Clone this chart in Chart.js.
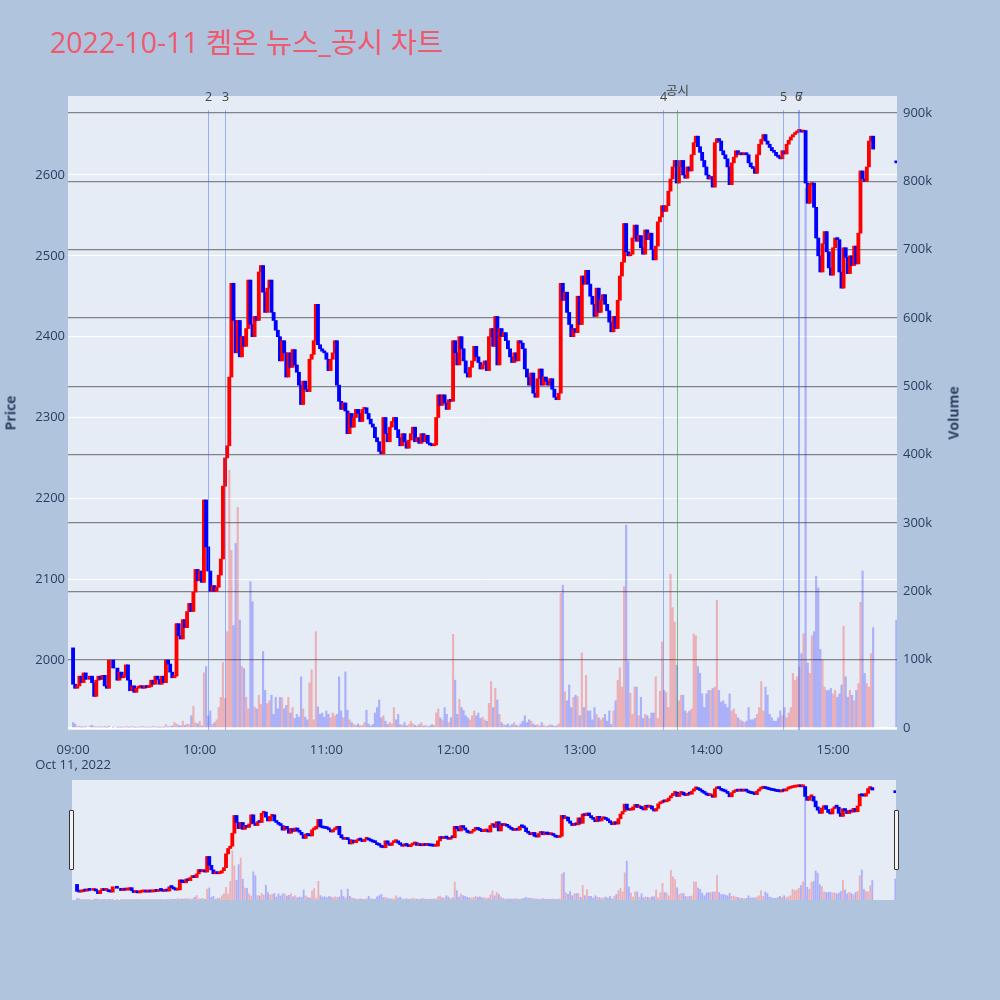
<!DOCTYPE html>
<html>
<head>
<meta charset="utf-8">
<script src="https://cdn.jsdelivr.net/npm/chart.js@4.4.0/dist/chart.umd.min.js"></script>
<style>
  body { margin: 0; background: #b0c4de; width: 1000px; height: 1000px; position: relative; overflow: hidden;
         font-family: "Open Sans", "Noto Sans CJK KR", sans-serif; }
  #title { position: absolute; left: 50px; top: 20px; font-size: 28.5px; color: #ee5a6e; white-space: nowrap;
           font-family: "Open Sans", "Noto Sans CJK KR", sans-serif; }
  #mainChart { position: absolute; left: 0; top: 0; }
  #sliderChart { position: absolute; left: 72px; top: 780px; }
  .axisTitle { position: absolute; font-weight: bold; font-size: 14px; color: #2a3f5f; white-space: nowrap;
               transform: translate(-50%, -50%) rotate(-90deg); }
  .handle { position: absolute; top: 810px; width: 3px; height: 58px; background: #f4f4f4; border: 1px solid #333; border-radius: 1px; }
</style>
</head>
<body>
<div id="title">2022-10-11 켐온 뉴스_공시 차트</div>
<canvas id="mainChart" width="1000" height="780"></canvas>
<canvas id="sliderChart" width="824" height="120"></canvas>
<div class="axisTitle" style="left:10px; top:413px;">Price</div>
<div class="axisTitle" style="left:953px; top:413px;">Volume</div>
<div class="handle" style="left:69px;"></div>
<div class="handle" style="left:894px;"></div>
<script>
    // minutes since 09:00, one close per minute (null = no trade)
    const firstOpen = 2015;
    const closePrices = [
        1970,1965,1968,1980,1972,1984,1976,null,1980,1972,   // 09:00
        1955,1975,1980,1976,1981,1968,1965,2000,null,1990,
        null,1975,1985,1978,1980,1994,1975,1962,1968,1960,
        1965,1966,1968,1965,1968,1966,1967,1975,1970,1980,
        1976,1970,1980,1972,2000,1995,1985,1978,1980,2045,
        2030,2026,2050,2040,2060,2070,2060,2084,2112,2098,
        2110,2096,2198,2140,2110,2085,2092,2085,2090,2105,   // 10:00
        2125,2215,2250,2265,2350,2466,2420,2380,2420,2375,
        2400,2388,2410,2470,2415,2400,2425,2420,2480,2488,
        2455,2430,2460,2470,2430,2420,2408,2400,2370,2395,
        2380,2350,2380,2362,2384,2365,2356,2340,2316,2345,
        2335,2332,2372,2378,2395,2440,2390,2385,2382,2380,
        2372,2358,2372,2380,2395,2340,2320,2310,2318,2308,   // 11:00
        2280,2305,2288,2300,2310,2305,2295,2310,2312,2305,
        2298,2292,2288,2275,2270,2258,2255,2300,2280,2270,
        2288,2295,2300,2285,2275,2265,2280,2270,2262,2272,
        2280,2288,2270,2275,2268,2280,2270,2278,2268,2266,
        2265,2266,2300,2328,2315,2328,2318,2310,2322,2320,
        2395,2380,2365,2400,2385,2370,2355,2350,2362,2370,   // 12:00
        2388,2375,2368,2360,2365,2370,2358,2400,2410,2388,
        2425,2365,2410,2400,2405,2395,2385,2375,2368,2380,
        2370,2395,2392,2385,2360,2350,2340,2355,2330,2325,
        2348,2360,2340,2350,2345,2340,2348,2335,2325,2322,
        2330,2466,2445,2455,2430,2415,2400,2410,2405,2450,
        2415,2475,2465,2482,2465,2450,2440,2425,2460,2430,   // 13:00
        2445,2452,2440,2432,2418,2406,2425,2410,2445,2475,
        2492,2540,2505,2500,2502,2522,2538,2518,2525,2510,
        2502,2532,2520,2528,2508,2495,2512,2542,2548,2562,
        2555,2562,2580,2595,2610,2618,2590,2610,2618,2600,
        2596,2610,2605,2625,2640,2648,2635,2628,2618,2610,
        2600,2595,2598,2585,2640,2645,2642,2630,2625,2620,   // 14:00
        2610,2588,2615,2622,2630,2625,2627,2625,2626,2625,
        2615,2610,2608,2602,2625,2638,2644,2650,2642,2638,
        2634,2630,2628,2624,2622,2620,2630,2626,2638,2643,
        2647,2650,2652,2654,2655,2653,2655,2590,2565,2588,
        2590,2560,2522,2500,2480,2515,2530,2505,2485,2476,
        2510,2522,2520,2480,2460,2510,2498,2478,2500,2488,   // 15:00
        2512,2490,2528,2605,2595,2592,2610,2642,2648,2632
    ];
    // volume per minute, thousands of shares
    const volumesK = [
        8,6,2,3,1,2,2,0,3,4,
        2,1,1,2,1,2,1,3,0,1,
        0,1,1,1,1,2,1,1,2,1,
        1,1,1,2,1,1,1,1,2,2,
        1,1,1,1,5,2,2,3,8,6,
        4,3,10,4,6,5,18,32,8,6,
        10,3,81,90,18,25,5,8,12,30,
        45,96,43,141,377,260,150,270,323,158,
        90,87,45,28,214,185,31,28,48,35,
        112,55,36,40,48,20,45,28,45,44,
        28,33,45,22,30,14,20,16,75,28,
        16,12,66,85,12,141,31,20,22,16,
        25,20,15,22,18,20,75,25,15,82,
        26,12,8,5,4,6,3,4,8,26,
        6,3,5,22,30,41,15,18,10,5,
        8,6,30,12,20,5,4,8,3,5,
        10,6,4,3,5,8,3,4,2,3,
        5,4,22,28,15,12,30,20,8,15,
        137,70,20,42,30,26,18,15,12,18,
        25,18,22,14,16,12,10,36,68,30,
        58,41,20,8,5,4,6,3,5,8,
        4,3,6,10,18,8,12,10,6,4,
        5,3,8,4,2,3,5,4,2,3,
        6,197,209,53,40,63,30,45,48,46,
        18,110,30,77,25,25,12,30,20,15,
        12,15,20,10,25,5,25,40,70,88,
        60,207,297,98,51,20,60,60,18,45,
        14,20,18,14,22,22,75,14,54,126,
        55,52,30,225,176,155,92,40,48,48,
        25,22,25,28,138,135,90,80,50,30,
        50,55,55,58,60,187,55,38,40,35,
        30,50,25,28,20,15,12,10,8,10,
        30,12,12,14,20,30,68,25,60,48,
        20,15,10,10,15,25,18,30,15,22,
        30,80,70,75,89,109,138,790,95,80,
        135,141,222,205,115,100,60,55,55,58,
        50,55,45,50,63,149,75,45,55,48,
        40,55,65,184,230,80,65,60,109,147
    ];
    // 15:30 closing auction
    const auctionMinute = 390;
    const auctionPrice = 2615;
    const auctionVolumeK = 158;

    // news / filing markers
    const markerLabels = ['2', '3', '4', '공시', '5', '6', '7'];
    const markerMinutes = [64, 72, 279.5, 286, 336.3, 343.3, 343.8];

    const xTickMinutes = [0, 60, 120, 180, 240, 300, 360];
    const xTickLabels = [['09:00', 'Oct 11, 2022'], '10:00', '11:00', '12:00', '13:00', '14:00', '15:00'];
    const priceTicks = [2000, 2100, 2200, 2300, 2400, 2500, 2600];
    const volumeTicksK = [0, 100, 200, 300, 400, 500, 600, 700, 800, 900];

    const xRange = [-2.4, 390.3];
    const priceRange = [1913.4, 2697.7];
    const volumeRange = [-2.9, 924.9];

    // build candles (open = previous close)
    const candles = [];
    const vols = [];
    let prevClose = firstOpen;
    closePrices.forEach(function (c, t) {
        if (c === null) return;
        candles.push({x: t, y: [prevClose, c]});
        vols.push({x: t, y: volumesK[t]});
        prevClose = c;
    });
    candles.push({x: auctionMinute, y: [auctionPrice, auctionPrice]});
    vols.push({x: auctionMinute, y: auctionVolumeK});

    const isUp = candles.map(d => d.y[1] > d.y[0]);
    const candleColors = isUp.map(u => u ? '#ff0000' : '#0000ff');
    const volumeColors = isUp.map(u => u ? 'rgba(255,0,0,0.25)' : 'rgba(0,0,255,0.25)');

    const tickFont = {family: '"Open Sans", sans-serif', size: 13};
    const tickColor = '#2a3f5f';

    const plotBg = {
        id: 'plotBg',
        beforeDraw(chart) {
            const {ctx, chartArea} = chart;
            ctx.save();
            ctx.fillStyle = '#e5ecf6';
            ctx.fillRect(chartArea.left, chartArea.top, chartArea.right - chartArea.left, chartArea.bottom - chartArea.top);
            ctx.restore();
        }
    };

    const markerLines = {
        id: 'markerLines',
        afterDatasetsDraw(chart) {
            const {ctx, chartArea, scales} = chart;
            ctx.save();
            ctx.font = '12.5px "Open Sans", "Noto Sans CJK KR", sans-serif';
            ctx.textAlign = 'center';
            ctx.textBaseline = 'middle';
            markerMinutes.forEach(function (m, i) {
                const x = Math.round(scales.x.getPixelForValue(m)) + 0.5;
                const filing = markerLabels[i] === '공시';
                ctx.strokeStyle = filing ? 'rgba(50,160,50,0.6)' : 'rgba(60,100,240,0.45)';
                ctx.lineWidth = 1;
                ctx.beginPath();
                ctx.moveTo(x, chartArea.top + 14);
                ctx.lineTo(x, chartArea.bottom);
                ctx.stroke();
                ctx.fillStyle = '#444';
                ctx.fillText(markerLabels[i], x, filing ? 91 : 97);
            });
            ctx.restore();
        }
    };

    function datasets(volThickness) {
        return [
            {
                label: 'Price', data: candles, yAxisID: 'y', backgroundColor: candleColors,
                borderWidth: 0, barThickness: 3.2, minBarLength: 2, grouped: false, order: 1
            },
            {
                label: 'Volume', data: vols, yAxisID: 'y2', backgroundColor: volumeColors,
                borderWidth: 0, barThickness: volThickness, grouped: false, order: 2
            }
        ];
    }

    new Chart(document.getElementById('mainChart'), {
        type: 'bar',
        data: {datasets: datasets(1.5)},
        options: {
            responsive: false,
            animation: false,
            devicePixelRatio: 1,
            layout: {padding: {top: 96, left: 0, right: 0, bottom: 0}},
            plugins: {legend: {display: false}, tooltip: {enabled: false}},
            scales: {
                x: {
                    type: 'linear', min: xRange[0], max: xRange[1], offset: false,
                    grid: {display: false}, border: {display: false},
                    afterBuildTicks: s => { s.ticks = xTickMinutes.map(v => ({value: v})); },
                    afterFit: s => { s.height = 50; },
                    ticks: {
                        autoSkip: false, maxRotation: 0, padding: 4, color: tickColor, font: tickFont,
                        callback: (v, i) => xTickLabels[i]
                    }
                },
                y: {
                    position: 'left', min: priceRange[0], max: priceRange[1],
                    grid: {color: '#ffffff', lineWidth: 1, drawTicks: false}, border: {display: false},
                    afterBuildTicks: s => { s.ticks = priceTicks.map(v => ({value: v})); },
                    afterFit: s => { s.width = 68; },
                    ticks: {padding: 3, color: tickColor, font: tickFont, callback: v => String(v)}
                },
                y2: {
                    position: 'right', min: volumeRange[0], max: volumeRange[1],
                    grid: {
                        color: c => c.tick && c.tick.value === 0 ? '#ffffff' : 'rgba(105,105,105,0.8)',
                        lineWidth: c => c.tick && c.tick.value === 0 ? 2 : 1.2,
                        drawTicks: false
                    },
                    border: {display: false},
                    afterBuildTicks: s => { s.ticks = volumeTicksK.map(v => ({value: v})); },
                    afterFit: s => { s.width = 103; },
                    ticks: {padding: 6, color: tickColor, font: tickFont, callback: v => v === 0 ? '0' : v + 'k'}
                }
            }
        },
        plugins: [plotBg, markerLines]
    });

    // range slider preview
    new Chart(document.getElementById('sliderChart'), {
        type: 'bar',
        data: {datasets: datasets(1.2)},
        options: {
            responsive: false,
            animation: false,
            devicePixelRatio: 1,
            layout: {padding: 0},
            plugins: {legend: {display: false}, tooltip: {enabled: false}},
            scales: {
                x: {type: 'linear', min: xRange[0], max: xRange[1], offset: false, display: false},
                y: {min: priceRange[0], max: priceRange[1], display: false},
                y2: {min: volumeRange[0], max: volumeRange[1], display: false}
            }
        },
        plugins: [plotBg]
    });
</script>
</body>
</html>
